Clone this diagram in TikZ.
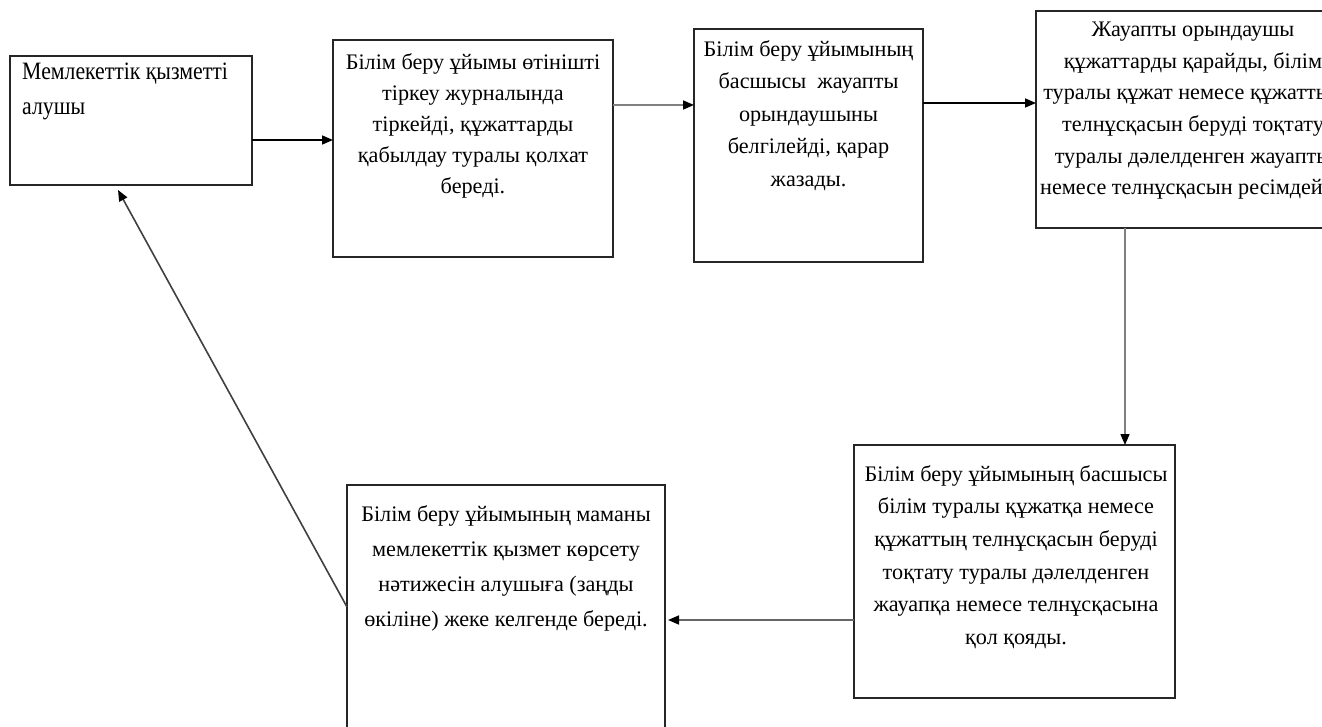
\documentclass[tikz,border=0pt]{standalone}
\usepackage{fontspec}
\setmainfont{Liberation Serif}
\newfontfamily\condfont{Liberation Serif}[FakeStretch=0.87]
\usetikzlibrary{arrows.meta}
\begin{document}
\begin{tikzpicture}[x=1pt,y=-1pt,
  box/.style={draw=black!85, line width=1.4pt, inner sep=0pt, outer sep=0pt, anchor=north west},
  txt/.style={inner sep=0pt, anchor=north, align=center, text=black},
  arr/.style={line width=1.6pt, draw=black, -{Triangle[length=11pt,width=9pt,color=black]}},
  garr/.style={arr, draw=black!50}]
\useasboundingbox (0,0) rectangle (1322,727);
\clip (0,0) rectangle (1322,727);
\fill[white] (0,0) rectangle (1322,727);
% boxes
\node[box, minimum width=242pt, minimum height=129pt] (b1) at (10,56) {};
\node[box, minimum width=280pt, minimum height=217pt] (b2) at (333,40) {};
\node[box, minimum width=229pt, minimum height=233pt] (b3) at (694,29) {};
\node[box, minimum width=324pt, minimum height=217pt] (b4) at (1036,11) {};
\node[box, minimum width=321pt, minimum height=253pt] (b5) at (854,445) {};
\node[box, minimum width=318pt, minimum height=275pt] (b6) at (347,485) {};
% texts
\node[txt, anchor=north west, align=left, font=\condfont\fontsize{25}{35}\selectfont] (t1) at (22,63)
  {Мемлекеттік қызметті\\алушы};
\node[txt, font=\fontsize{22.2}{31}\selectfont] (t2) at (473,53)
  {Білім беру ұйымы өтінішті\\тіркеу журналында\\тіркейді, құжаттарды\\қабылдау туралы қолхат\\береді.};
\node[txt, font=\fontsize{22.2}{32.5}\selectfont] (t3) at (808.5,40)
  {Білім беру ұйымының\\басшысы\ \ жауапты\\орындаушыны\\белгілейді, қарар\\жазады.};
\node[txt, font=\fontsize{22.2}{31.6}\selectfont] (t4) at (1193,22)
  {Жауапты орындаушы\\құжаттарды қарайды, білім\\туралы құжат немесе құжаттың\\телнұсқасын беруді тоқтату\\туралы дәлелденген жауапты\\немесе телнұсқасын ресімдейді.};
\node[txt, font=\fontsize{22.2}{32.7}\selectfont] (t5) at (1016,465)
  {Білім беру ұйымының басшысы\\білім туралы құжатқа немесе\\құжаттың телнұсқасын беруді\\тоқтату туралы дәлелденген\\жауапқа немесе телнұсқасына\\қол қояды.};
\node[txt, font=\fontsize{22.2}{35}\selectfont] (t6) at (506,505)
  {Білім беру ұйымының маманы\\мемлекеттік қызмет көрсету\\нәтижесін алушыға (заңды\\өкіліне) жеке келгенде береді.};
% connectors
\coordinate (e1) at ([yshift=-5pt]b1.south -| 118,0);
\draw[arr] (b1.east |- 0,140) -- (b2.west |- 0,140);
\draw[garr] (b2.east |- 0,105) -- (b3.west |- 0,105);
\draw[arr] (b3.east |- 0,103) -- (b4.west |- 0,103);
\draw[garr] (b4.south -| 1125,0) -- (b5.north -| 1125,0);
\draw[garr, draw=black!60] (b5.west |- 0,620) -- ([xshift=3pt]b6.east |- 0,620);
\draw[arr, draw=black!75] (b6.west |- 0,607) -- (e1);
\end{tikzpicture}
\end{document}
